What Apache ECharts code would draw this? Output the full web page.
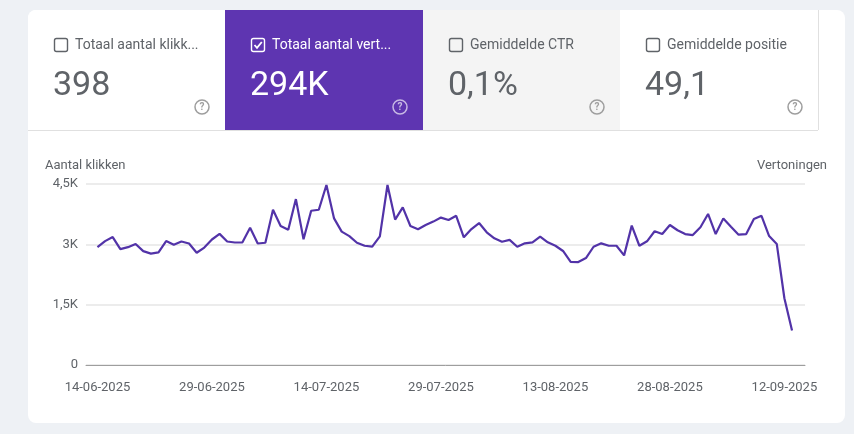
<!DOCTYPE html>
<html>
<head>
<meta charset="utf-8">
<script src="https://cdn.jsdelivr.net/npm/echarts@6/dist/echarts.min.js"></script>
<style>
  html, body { margin: 0; padding: 0; background: #eef1f5; }
  #main { width: 854px; height: 434px; }
</style>
</head>
<body>
<div id="main"></div>
<script>
// tiles bovenaan
const tileLabels = ["Totaal aantal klikk...", "Totaal aantal vert...", "Gemiddelde CTR", "Gemiddelde positie"];
const tileValues = ["398", "294K", "0,1%", "49,1"];
const tileChecked = [false, true, false, false];

// dagelijkse vertoningen 14-06-2025 t/m 13-09-2025
const impressions = [
    2930, 3080, 3180, 2880, 2930, 3010, 2830, 2770, 2800, 3080,
    2990, 3070, 3020, 2790, 2920, 3120, 3260, 3070, 3045, 3050,
    3410, 3020, 3040, 3860, 3455, 3360, 4125, 3125, 3835, 3860,
    4475, 3645, 3315, 3205, 3040, 2965, 2945, 3200, 4475, 3615,
    3920, 3455, 3375, 3480, 3565, 3665, 3605, 3710, 3175, 3380,
    3530, 3300, 3150, 3065, 3110, 2940, 3025, 3050, 3190, 3050,
    2965, 2835, 2565, 2560, 2660, 2940, 3025, 2965, 2965, 2725,
    3465, 2965, 3075, 3325, 3255, 3480, 3350, 3255, 3230, 3425,
    3755, 3255, 3645, 3440, 3240, 3255, 3630, 3710, 3205, 3010,
    1660, 855
];

const xTickIndex = [0, 15, 30, 45, 60, 75, 90];
const xTickLabels = ["14-06-2025", "29-06-2025", "14-07-2025", "29-07-2025", "13-08-2025", "28-08-2025", "12-09-2025"];
const yTickLabels = { 0: "0", 1500: "1,5K", 3000: "3K", 4500: "4,5K" };

const PURPLE = "#5e35b1";
const LINE = "#5233a8";
const GREY_TXT = "#5f6368";

let chart = echarts.init(document.getElementById("main"), null, { renderer: "canvas" });

const buildTiles = () => {
    let els = [];
    const x0 = [28, 225, 423, 620];
    const w = [197, 198, 197, 198];
    const bg = ["#ffffff", PURPLE, "#f4f4f4", "#ffffff"];
    for (let i = 0; i < 4; i++) {
        let on = tileChecked[i];
        let fg = on ? "#ffffff" : GREY_TXT;
        let px = x0[i] + 26;
        els.push({
            type: "rect", silent: true,
            shape: { x: x0[i], y: 10, width: w[i], height: 120, r: i === 0 ? [8, 0, 0, 0] : 0 },
            style: { fill: bg[i] }
        });
        // checkbox
        els.push({
            type: "rect", silent: true,
            shape: { x: px + 0.5, y: 38.5, width: 13, height: 13, r: 2 },
            style: { fill: "none", stroke: fg, lineWidth: 1.4 }
        });
        if (on) {
            els.push({
                type: "polyline", silent: true,
                shape: { points: [[px + 3.5, 45], [px + 6, 47.8], [px + 10.8, 42]] },
                style: { fill: "none", stroke: "#ffffff", lineWidth: 1.8 }
            });
        }
        els.push({
            type: "text", silent: true,
            style: {
                x: px + 21, y: 45, text: tileLabels[i], fill: fg,
                font: "14px Roboto", textVerticalAlign: "middle"
            }
        });
        els.push({
            type: "text", silent: true,
            style: {
                x: px - 1, y: 86, text: tileValues[i], fill: fg,
                font: "34px Roboto", textVerticalAlign: "middle"
            }
        });
        // vraagteken icoon
        let qx = x0[i] + w[i] - 23;
        let qc = on ? "rgba(255,255,255,0.65)" : "#9e9e9e";
        els.push({
            type: "circle", silent: true,
            shape: { cx: qx, cy: 107, r: 7 },
            style: { fill: "none", stroke: qc, lineWidth: 1.5 }
        });
        els.push({
            type: "text", silent: true,
            style: {
                x: qx, y: 107.5, text: "?", fill: qc, font: "bold 10px Roboto",
                textAlign: "center", textVerticalAlign: "middle"
            }
        });
    }
    // rechterrand van laatste tile + onderlijn
    els.push({
        type: "line", silent: true,
        shape: { x1: 818.5, y1: 10, x2: 818.5, y2: 130 },
        style: { stroke: "#e0e0e0", lineWidth: 1 }
    });
    els.push({
        type: "line", silent: true,
        shape: { x1: 28, y1: 130.5, x2: 818, y2: 130.5 },
        style: { stroke: "#e0e0e0", lineWidth: 1 }
    });
    return els;
};

let graphics = [
    {
        type: "rect", silent: true, z: -10,
        shape: { x: 28, y: 10, width: 817, height: 413, r: 8 },
        style: { fill: "#ffffff" }
    }
].concat(buildTiles()).concat([
    {
        type: "text", silent: true,
        style: { x: 45, y: 166, text: "Aantal klikken", fill: GREY_TXT, font: "13px Roboto", textVerticalAlign: "middle" }
    },
    {
        type: "text", silent: true,
        style: { x: 827, y: 166, text: "Vertoningen", fill: GREY_TXT, font: "13px Roboto", textAlign: "right", textVerticalAlign: "middle" }
    }
]);

let option = {
    backgroundColor: "#eef1f5",
    animation: false,
    textStyle: { fontFamily: "Roboto" },
    graphic: graphics,
    grid: { left: 86, right: 49, top: 184, bottom: 69, containLabel: false },
    xAxis: {
        type: "value",
        min: -1.5,
        max: 92.7,
        splitLine: { show: false },
        axisTick: { show: false },
        axisLine: { show: true, lineStyle: { color: "#9e9e9e", width: 1 } },
        axisLabel: {
            customValues: xTickIndex,
            color: GREY_TXT,
            fontSize: 13,
            margin: 16,
            formatter: v => xTickLabels[xTickIndex.indexOf(v)] || ""
        }
    },
    yAxis: {
        type: "value",
        min: 0,
        max: 4500,
        interval: 1500,
        axisLine: { show: false },
        axisTick: { show: false },
        splitLine: { lineStyle: { color: "#ececec", width: 2 } },
        axisLabel: {
            color: GREY_TXT,
            fontSize: 13,
            margin: 8,
            formatter: v => yTickLabels[v]
        }
    },
    series: [
        {
            name: "Vertoningen",
            type: "line",
            data: impressions.map((v, i) => [i, v]),
            showSymbol: false,
            lineStyle: { color: LINE, width: 2.2 },
            itemStyle: { color: LINE }
        }
    ]
};

chart.setOption(option);
</script>
</body>
</html>
